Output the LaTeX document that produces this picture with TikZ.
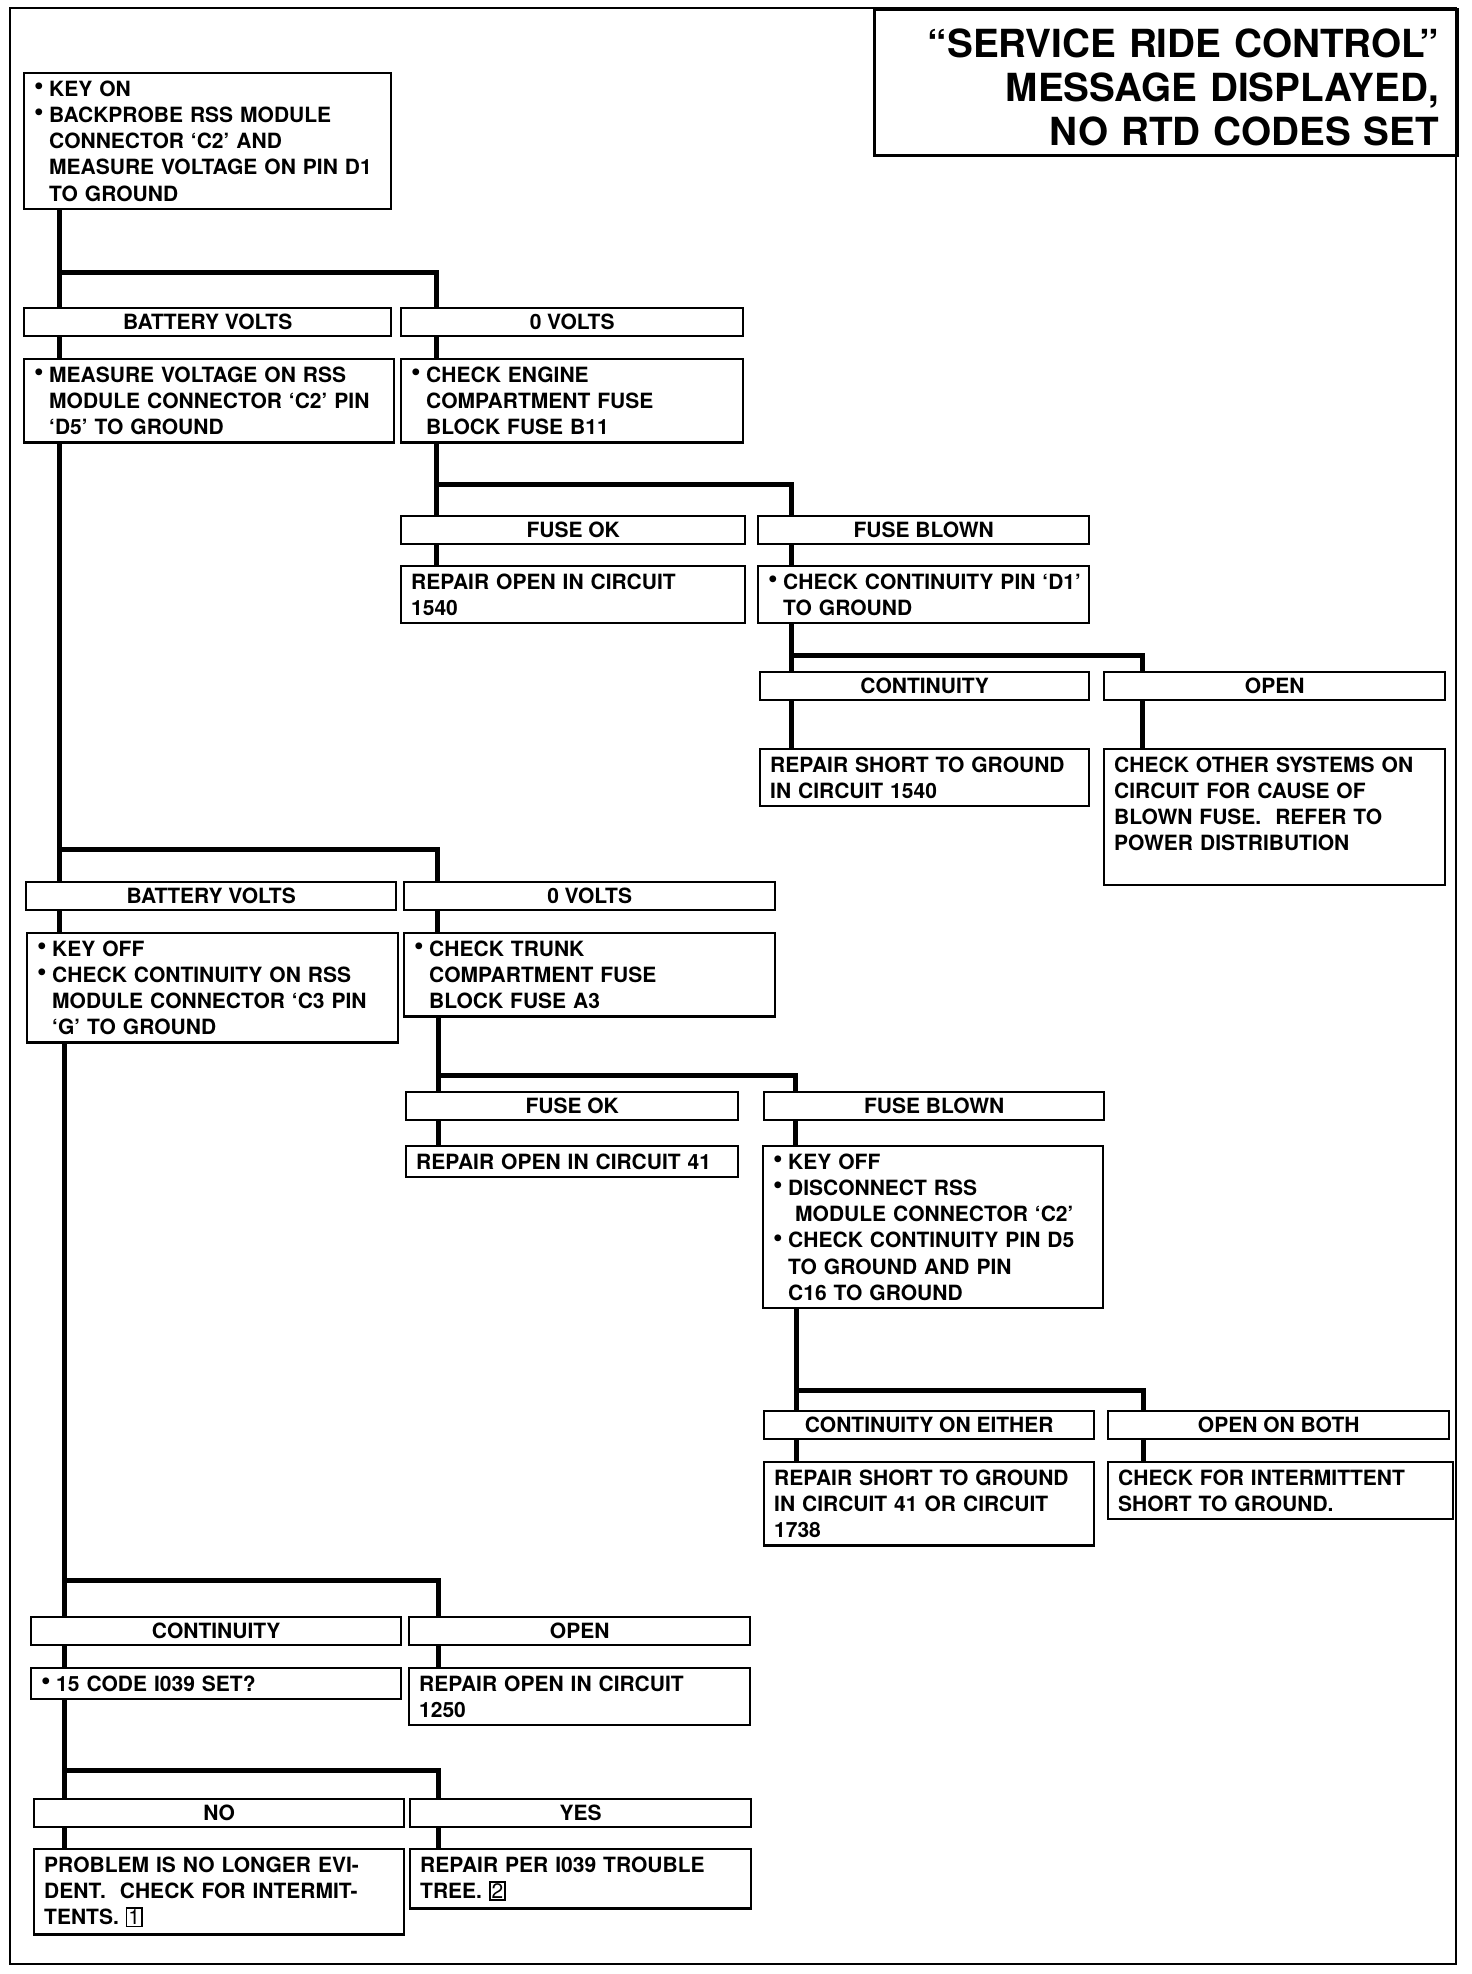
\documentclass[tikz,border=0pt]{standalone}
\usepackage{fontspec}
\setmainfont{TeX Gyre Heros}
\usepackage{graphicx}
\usepackage{tikz}

\newcommand\bodyfont{\fontsize{21}{26.2}\selectfont\bfseries}
\newcommand\titlefont{\fontsize{38.7}{44}\selectfont\bfseries}
\newcommand\bul{\makebox[15pt][l]{\raisebox{1.5pt}{\scalebox{1.3}{\textbullet}}}}
\newcommand\ind{\hspace*{15pt}}
\newcommand\boxnum[1]{{\setlength\fboxsep{1pt}\setlength\fboxrule{1.5pt}\fbox{\fontseries{m}\selectfont #1}}}

\begin{document}
\begin{tikzpicture}[x=1pt,y=-1pt,
    frame/.style={line width=2.5pt},
    titlebox/.style={draw,line width=2.5pt,anchor=north west,align=right,font=\titlefont,
      inner xsep=18pt,inner ysep=0pt,text width=547pt,text height=48pt,text depth=98pt},
    bar/.style={draw,fill=white,line width=2.4pt,anchor=north west,minimum height=28pt,inner sep=0pt,font=\bodyfont},
    box/.style={draw,fill=white,line width=2.4pt,anchor=north west,align=left,inner xsep=10pt,inner ysep=7.5pt,font=\bodyfont},
    conn/.style={line width=5pt,line join=miter}
  ]
  \useasboundingbox (0,0) rectangle (1472,1974);
  \draw[frame] (10,8) rectangle (1456,1964);
  \node[titlebox] (title) at (873,8) {``SERVICE RIDE CONTROL''\\MESSAGE DISPLAYED,\\NO RTD CODES SET};

  % start
  \node[box,text width=347pt] (a) at (23,72) {\bul KEY ON\\\bul BACKPROBE RSS MODULE\\\ind CONNECTOR `C2' AND\\\ind MEASURE VOLTAGE ON PIN D1\\\ind TO GROUND};

  % first measurement
  \node[bar,minimum width=367pt] (bv1) at (23,307) {BATTERY VOLTS};
  \node[bar,minimum width=342pt] (zv1) at (400,307) {0 VOLTS};
  \node[box,text width=350pt] (b1) at (23,358) {\bul MEASURE VOLTAGE ON RSS\\\ind MODULE CONNECTOR `C2' PIN\\\ind `D5' TO GROUND};
  \node[box,text width=322pt] (b2) at (400,358) {\bul CHECK ENGINE\\\ind COMPARTMENT FUSE\\\ind BLOCK FUSE B11};

  % fuse B11
  \node[bar,minimum width=344pt] (fok1) at (400,515) {FUSE OK};
  \node[bar,minimum width=331pt] (fbl1) at (757,515) {FUSE BLOWN};
  \node[box,text width=324pt] (c1) at (400,565) {REPAIR OPEN IN CIRCUIT\\1540};
  \node[box,text width=311pt] (c2) at (757,565) {\bul\mbox{CHECK CONTINUITY PIN `D1'}\\\ind TO GROUND};

  \node[bar,minimum width=329pt] (con1) at (759,671) {CONTINUITY};
  \node[bar,minimum width=341pt] (opn1) at (1103,671) {OPEN};
  \node[box,text width=309pt] (d1) at (759,748) {REPAIR SHORT TO GROUND\\IN CIRCUIT 1540};
  \node[box,text width=321pt,text depth=105pt] (d2) at (1103,748) {CHECK OTHER SYSTEMS ON\\CIRCUIT FOR CAUSE OF\\BLOWN FUSE.\ \ REFER TO\\POWER DISTRIBUTION};

  % second measurement
  \node[bar,minimum width=370pt] (bv2) at (25,881) {BATTERY VOLTS};
  \node[bar,minimum width=371pt] (zv2) at (403,881) {0 VOLTS};
  \node[box,text width=351pt] (e1) at (26,932) {\bul KEY OFF\\\bul CHECK CONTINUITY ON RSS\\\ind MODULE CONNECTOR `C3 PIN\\\ind `G' TO GROUND};
  \node[box,text width=351pt] (e2) at (403,932) {\bul CHECK TRUNK\\\ind COMPARTMENT FUSE\\\ind BLOCK FUSE A3};

  % fuse A3
  \node[bar,minimum width=332pt] (fok2) at (405,1091) {FUSE OK};
  \node[bar,minimum width=340pt] (fbl2) at (763,1091) {FUSE BLOWN};
  \node[box,text width=312pt] (f1) at (405,1145) {REPAIR OPEN IN CIRCUIT 41};
  \node[box,text width=320pt] (f2) at (762,1145) {\bul KEY OFF\\\bul DISCONNECT RSS\\\hspace*{22pt}MODULE CONNECTOR `C2'\\\bul CHECK CONTINUITY PIN D5\\\ind TO GROUND AND PIN\\\ind C16 TO GROUND};

  \node[bar,minimum width=330pt] (coe) at (763,1410) {CONTINUITY ON EITHER};
  \node[bar,minimum width=341pt] (opb) at (1107,1410) {OPEN ON BOTH};
  \node[box,text width=310pt] (g1) at (763,1461) {REPAIR SHORT TO GROUND\\IN CIRCUIT 41 OR CIRCUIT\\1738};
  \node[box,text width=325pt] (g2) at (1107,1461) {CHECK FOR INTERMITTENT\\SHORT TO GROUND.};

  % ground check
  \node[bar,minimum width=370pt] (con2) at (30,1616) {CONTINUITY};
  \node[bar,minimum width=341pt] (opn2) at (408,1616) {OPEN};
  \node[box,text width=350pt] (h1) at (30,1667) {\bul 15 CODE I039 SET?};
  \node[box,text width=321pt] (h2) at (408,1667) {REPAIR OPEN IN CIRCUIT\\1250};

  \node[bar,minimum width=370pt] (no) at (33,1798) {NO};
  \node[bar,minimum width=341pt] (yes) at (409,1798) {YES};
  \node[box,text width=350pt] (i1) at (33,1848) {PROBLEM IS NO LONGER EVI-\\DENT.\ \ CHECK FOR INTERMIT-\\TENTS. \boxnum{1}};
  \node[box,text width=321pt] (i2) at (409,1848) {REPAIR PER I039 TROUBLE\\TREE. \boxnum{2}};

  % junctions
  \coordinate (j1-l) at (59,272);   \coordinate (j1-r) at (436,272);
  \coordinate (j2-l) at (436,484);  \coordinate (j2-r) at (791,484);
  \coordinate (j3-l) at (791,655);  \coordinate (j3-r) at (1142,655);
  \coordinate (j4-l) at (59,849);   \coordinate (j4-r) at (437,849);
  \coordinate (j5-l) at (438,1075); \coordinate (j5-r) at (795,1075);
  \coordinate (j6-l) at (796,1390); \coordinate (j6-r) at (1143,1390);
  \coordinate (j7-l) at (64,1580);  \coordinate (j7-r) at (438,1580);
  \coordinate (j8-l) at (64,1770);  \coordinate (j8-r) at (438,1770);

  \foreach \src/\jn/\lab/\rab/\lbx/\rbx in {a/j1/bv1/zv1/b1/b2, b2/j2/fok1/fbl1/c1/c2,
      c2/j3/con1/opn1/d1/d2, b1/j4/bv2/zv2/e1/e2, e2/j5/fok2/fbl2/f1/f2,
      f2/j6/coe/opb/g1/g2, e1/j7/con2/opn2/h1/h2, h1/j8/no/yes/i1/i2}{
    \draw[conn] (\src.south -| \jn-l) -- (\lab.north -| \jn-l);
    \draw[conn] (\jn-l) -- (\jn-r) -- (\rab.north -| \jn-r);
    \draw[conn] (\lab.south -| \jn-l) -- (\lbx.north -| \jn-l);
    \draw[conn] (\rab.south -| \jn-r) -- (\rbx.north -| \jn-r);
  }
\end{tikzpicture}
\end{document}
